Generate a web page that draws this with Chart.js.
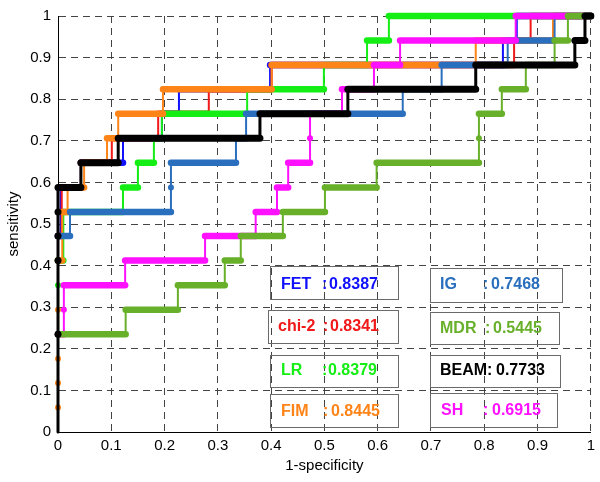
<!DOCTYPE html>
<html>
<head>
<meta charset="utf-8">
<script src="https://cdn.jsdelivr.net/npm/chart.js@4.4.1/dist/chart.umd.min.js"></script>
<style>
  html, body { margin: 0; padding: 0; background: #fff; }
  #wrap { width: 600px; height: 482px; }
</style>
</head>
<body>
<div id="wrap"><canvas id="rocChart" width="600" height="482"></canvas></div>
<script>
// ---------------------
// DATA
// ---------------------
const methodNames = ["FET", "chi-2", "LR", "FIM", "IG", "MDR", "BEAM", "SH"];
const aucLabels = ["0.8387", "0.8341", "0.8379", "0.8445", "0.7468", "0.5445", "0.7733", "0.6915"];
const axisTicks = [0, 0.1, 0.2, 0.3, 0.4, 0.5, 0.6, 0.7, 0.8, 0.9, 1];

// [1-specificity, sensitivity] corners of each step curve
const fetRoc = [[0, 0], [0, 0.471], [0.005, 0.471], [0.005, 0.588], [0.043, 0.588], [0.043, 0.647],
  [0.122, 0.647], [0.122, 0.706], [0.195, 0.706], [0.195, 0.765], [0.227, 0.765], [0.227, 0.824],
  [0.398, 0.824], [0.398, 0.882], [0.835, 0.882], [0.835, 0.941], [0.861, 0.941], [0.861, 1], [1, 1]];
const chi2Roc = [[0, 0], [0, 0.471], [0.007, 0.471], [0.007, 0.588], [0.043, 0.588], [0.043, 0.647],
  [0.101, 0.647], [0.101, 0.706], [0.188, 0.706], [0.188, 0.765], [0.283, 0.765], [0.283, 0.824],
  [0.401, 0.824], [0.401, 0.882], [0.856, 0.882], [0.856, 0.941], [0.887, 0.941], [0.887, 1], [1, 1]];
const lrRoc = [[0, 0], [0, 0.353], [0, 0.412], [0.01, 0.412], [0.01, 0.529], [0.122, 0.529],
  [0.122, 0.588], [0.150, 0.588], [0.150, 0.647], [0.180, 0.647], [0.180, 0.706], [0.195, 0.706],
  [0.195, 0.765], [0.355, 0.765], [0.355, 0.824], [0.499, 0.824], [0.499, 0.882], [0.580, 0.882],
  [0.580, 0.941], [0.621, 0.941], [0.621, 1], [1, 1]];
const fimRoc = [[0, 0], [0, 0.059], [0, 0.118], [0, 0.176], [0, 0.294], [0, 0.412], [0.008, 0.412],
  [0.008, 0.529], [0.018, 0.529], [0.018, 0.588], [0.049, 0.588], [0.049, 0.647], [0.092, 0.647],
  [0.092, 0.706], [0.113, 0.706], [0.113, 0.765], [0.197, 0.765], [0.197, 0.824], [0.401, 0.824],
  [0.401, 0.882], [0.784, 0.882], [0.784, 0.941], [0.929, 0.941], [0.929, 1], [1, 1]];
const igRoc = [[0, 0], [0, 0.471], [0.0225, 0.471], [0.0225, 0.529], [0.212, 0.529], [0.212, 0.588],
  [0.212, 0.647], [0.334, 0.647], [0.334, 0.706], [0.353, 0.706], [0.353, 0.765], [0.647, 0.765],
  [0.647, 0.824], [0.720, 0.824], [0.720, 0.882], [0.844, 0.882], [0.844, 0.941], [0.932, 0.941],
  [0.932, 1], [1, 1]];
const mdrRoc = [[0, 0], [0, 0.235], [0.127, 0.235], [0.127, 0.294], [0.225, 0.294], [0.225, 0.353],
  [0.313, 0.353], [0.313, 0.412], [0.343, 0.412], [0.343, 0.471], [0.422, 0.471], [0.422, 0.529],
  [0.501, 0.529], [0.501, 0.588], [0.598, 0.588], [0.598, 0.647], [0.790, 0.647], [0.790, 0.706],
  [0.790, 0.765], [0.833, 0.765], [0.833, 0.824], [0.878, 0.824], [0.878, 0.882], [0.932, 0.882],
  [0.932, 0.941], [0.957, 0.941], [0.957, 1], [1, 1]];
const beamRoc = [[0, 0], [0, 0.235], [0, 0.412], [0, 0.471], [0, 0.529], [0, 0.588], [0.043, 0.588],
  [0.043, 0.647], [0.113, 0.647], [0.113, 0.706], [0.379, 0.706], [0.379, 0.765], [0.544, 0.765],
  [0.544, 0.824], [0.784, 0.824], [0.784, 0.882], [0.970, 0.882], [0.970, 0.941], [0.989, 0.941],
  [0.989, 1], [1, 1]];
const shRoc = [[0, 0], [0, 0.235], [0.011, 0.235], [0.011, 0.294], [0.011, 0.353], [0.126, 0.353],
  [0.126, 0.412], [0.276, 0.412], [0.276, 0.471], [0.371, 0.471], [0.371, 0.529], [0.411, 0.529],
  [0.411, 0.588], [0.432, 0.588], [0.432, 0.647], [0.473, 0.647], [0.473, 0.706], [0.473, 0.765],
  [0.533, 0.765], [0.533, 0.824], [0.593, 0.824], [0.593, 0.882], [0.642, 0.882], [0.642, 0.941],
  [0.859, 0.941], [0.859, 1], [1, 1]];

const rocCurves = [fetRoc, chi2Roc, lrRoc, fimRoc, igRoc, mdrRoc, beamRoc, shRoc];

// ---------------------
// STYLE
// ---------------------
const lineColors = ["#1010ff", "#f01818", "#14ee14", "#ff8418", "#2a6fbe", "#68b02a", "#000000", "#ff10ff"];
const drawOrder = [8, 7, 6, 5, 4, 2, 1, 3]; // lower = on top
const FONT = "'Liberation Sans', Arial, Helvetica, sans-serif";

Chart.defaults.color = "#000";
Chart.defaults.font.family = FONT;

// a point sitting inside a vertical run gets a marker dot
function isStepDot(pts, i) {
  if (i <= 0 || i >= pts.length - 1) return false;
  return pts[i - 1][0] === pts[i][0] && pts[i + 1][0] === pts[i][0];
}

function buildDataset(i) {
  const pts = rocCurves[i];
  const isBeam = methodNames[i] === "BEAM";
  const thick = isBeam ? 7 : 6.5;
  const thin = isBeam ? 3 : 2;
  return {
    label: methodNames[i],
    data: pts.map((p) => ({ x: p[0], y: p[1] })),
    borderColor: lineColors[i],
    backgroundColor: lineColors[i],
    borderWidth: thin,
    borderCapStyle: "round",
    borderJoinStyle: "round",
    tension: 0,
    fill: false,
    order: drawOrder[i],
    clip: 10,
    pointRadius: (ctx) => (isStepDot(pts, ctx.dataIndex) ? (isBeam ? 3.5 : 3) : 0),
    pointHoverRadius: 0,
    pointBorderWidth: 0,
    pointBackgroundColor: lineColors[i],
    segment: {
      borderWidth: (ctx) => (ctx.p0.parsed.y === ctx.p1.parsed.y ? thick : thin),
    },
  };
}

// ---------------------
// AUC TEXT BOXES
// ---------------------
const aucBoxes = {
  id: "aucBoxes",
  afterDatasetsDraw(chart) {
    const ctx = chart.ctx;
    const rects = [[270, 266, 128, 33], [268, 310, 130, 33], [270, 355, 128, 32], [270, 394, 128, 33],
      [430, 268, 132, 34], [430, 312, 129, 32], [430, 355, 130, 32], [430, 393, 127, 34]];
    const labelX = [281, 278, 281, 281, 440, 440, 440, 441];
    const colonX = [322, 323, 322, 323, 483, 485, null, 483];
    const valueX = [329, 330, 328, 331, 491, 493, 496, 492];
    const midY = [285, 327, 371, 412, 285, 329, 371, 411];

    ctx.save();
    ctx.strokeStyle = "#6a6a6a";
    ctx.lineWidth = 1;
    rects.forEach((r) => ctx.strokeRect(r[0] + 0.5, r[1] + 0.5, r[2], r[3]));

    ctx.font = "bold 16px " + FONT;
    ctx.textBaseline = "middle";
    ctx.textAlign = "left";
    methodNames.forEach((name, i) => {
      ctx.fillStyle = lineColors[i];
      ctx.fillText(name, labelX[i], midY[i]);
      const cx = colonX[i] ?? labelX[i] + ctx.measureText(name).width;
      ctx.fillText(":", cx, midY[i]);
      ctx.fillText(aucLabels[i], valueX[i], midY[i]);
    });
    ctx.restore();
  },
};

// ---------------------
// CHART
// ---------------------
const tickFont = { family: FONT, size: 15 };
const titleFont = { family: FONT, size: 15 };
const gridStyle = { color: "#444", lineWidth: 1, drawTicks: false };
const borderStyle = { display: true, color: "#000", width: 1, dash: [7, 5] };

new Chart(document.getElementById("rocChart"), {
  type: "line",
  data: { datasets: methodNames.map((_, i) => buildDataset(i)) },
  options: {
    responsive: false,
    animation: false,
    events: [],
    devicePixelRatio: 1,
    layout: { padding: { top: 12, right: 9, left: 0, bottom: 0 } },
    plugins: { legend: { display: false }, tooltip: { enabled: false } },
    scales: {
      x: {
        type: "linear",
        min: 0,
        max: 1,
        afterBuildTicks: (s) => { s.ticks = axisTicks.map((v) => ({ value: v })); },
        afterFit: (s) => { s.height = 50; },
        ticks: { font: tickFont, padding: 5, maxRotation: 0, callback: (v) => String(v) },
        grid: gridStyle,
        border: borderStyle,
        title: { display: true, text: "1-specificity", font: titleFont, padding: { top: 0, bottom: 7 } },
      },
      y: {
        type: "linear",
        min: 0,
        max: 1,
        afterBuildTicks: (s) => { s.ticks = axisTicks.map((v) => ({ value: v })); },
        afterFit: (s) => { s.width = 58; },
        ticks: { font: tickFont, padding: 7, callback: (v) => String(v) },
        grid: gridStyle,
        border: borderStyle,
        title: { display: true, text: "sensitivity", font: titleFont, padding: { top: 5, bottom: 0 } },
      },
    },
  },
  plugins: [aucBoxes],
});
</script>
</body>
</html>
